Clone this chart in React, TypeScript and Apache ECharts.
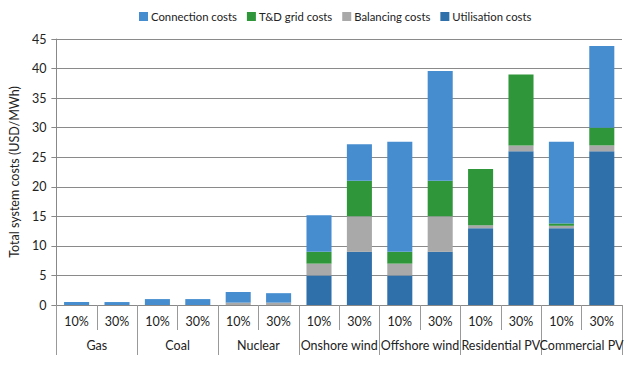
import React, { useEffect, useRef } from "react";
import * as echarts from "echarts";

const categories = ["10%", "30%", "10%", "30%", "10%", "30%", "10%", "30%", "10%", "30%", "10%", "30%", "10%", "30%"];
const groups = ["Gas", "Coal", "Nuclear", "Onshore wind", "Offshore wind", "Residential PV", "Commercial PV"];
const utilisation = [0, 0, 0, 0, 0, 0, 5, 9, 5, 9, 13, 26, 13, 26];
const balancing = [0, 0, 0, 0, 0.4, 0.4, 2, 6, 2, 6, 0.5, 1, 0.4, 1];
const tdGrid = [0, 0, 0, 0, 0, 0, 2, 6, 2, 6, 9.5, 12, 0.4, 3];
const connection = [0.5, 0.5, 1.0, 1.0, 1.8, 1.6, 6.2, 6.2, 18.6, 18.6, 0, 0, 13.8, 13.8];
const yTicks = { min: 0, max: 45, interval: 5 };

const FONT = "Lato, 'Open Sans', sans-serif";

export default function App() {
  const ref = useRef<HTMLDivElement>(null);
  useEffect(() => {
    if (!ref.current) return;
    const chart = echarts.init(ref.current, undefined, { renderer: "svg" });
    const mk = (name: string, data: number[], color: string) => ({
      name,
      type: "bar",
      stack: "total",
      data,
      barCategoryGap: "38%",
      itemStyle: { color },
      emphasis: { disabled: true },
    });
    chart.setOption({
      animation: false,
      textStyle: { fontFamily: FONT },
      legend: {
        top: 6,
        left: 134,
        itemWidth: 9,
        itemHeight: 9,
        itemGap: 10,
        icon: "rect",
        textStyle: { fontSize: 11.3, color: "#222", fontFamily: FONT, padding: [0, 0, 0, -2] },
        data: ["Connection costs", "T&D grid costs", "Balancing costs", "Utilisation costs"],
      },
      grid: { left: 55, right: 18, top: 39, bottom: 61 },
      xAxis: [
        {
          type: "category",
          data: categories,
          position: "bottom",
          axisLine: { lineStyle: { color: "#888" } },
          axisTick: { show: true, length: 25, interval: 0, lineStyle: { color: "#999" } },
          axisLabel: { interval: 0, margin: 10, fontSize: 12.5, color: "#222", fontFamily: FONT },
        },
        {
          type: "category",
          data: groups,
          position: "bottom",
          gridIndex: 0,
          axisLine: { show: false },
          axisTick: { show: true, length: 50, interval: 0, lineStyle: { color: "#999" } },
          axisLabel: { interval: 0, margin: 34, fontSize: 12.5, color: "#222", fontFamily: FONT },
          splitLine: { show: false },
        },
      ],
      yAxis: {
        type: "value",
        min: yTicks.min,
        max: yTicks.max,
        interval: yTicks.interval,
        name: "Total system costs (USD/MWh)",
        nameLocation: "middle",
        nameGap: 28,
        nameTextStyle: { fontSize: 12.5, color: "#222", fontFamily: FONT },
        axisLine: { show: true, lineStyle: { color: "#888" } },
        axisTick: { show: true, length: 5, lineStyle: { color: "#888" } },
        axisLabel: { fontSize: 12.5, color: "#222", margin: 10, fontFamily: FONT },
        splitLine: { lineStyle: { color: "#8a8a8a", width: 1 } },
      },
      series: [
        mk("Utilisation costs", utilisation, "#2f70aa"),
        mk("Balancing costs", balancing, "#a9a9a9"),
        mk("T&D grid costs", tdGrid, "#2f9639"),
        mk("Connection costs", connection, "#458dcf"),
      ],
    });
    return () => chart.dispose();
  }, []);
  return <div ref={ref} style={{ width: 640, height: 366, position: "absolute", left: 0, top: 0 }} />;
}
